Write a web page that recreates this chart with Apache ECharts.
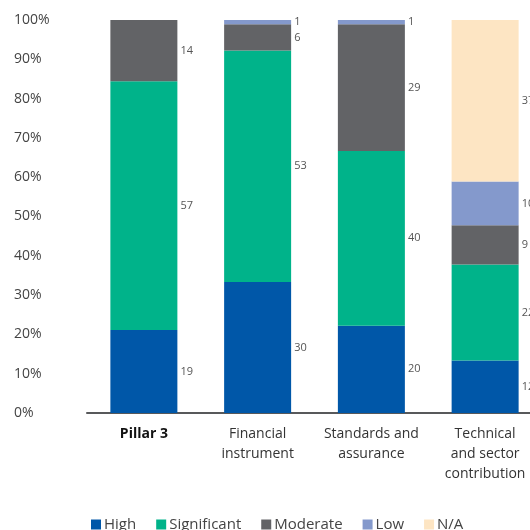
<!DOCTYPE html>
<html>
<head>
<meta charset="utf-8">
<script src="https://cdn.jsdelivr.net/npm/echarts@6/dist/echarts.min.js"></script>
<style>html,body{margin:0;padding:0;background:#fff}#c{width:530px;height:530px}</style>
</head>
<body>
<div id="c"></div>
<script>
var categories = ['Pillar 3', 'Financial\ninstrument', 'Standards and\nassurance', 'Technical\nand sector\ncontribution'];
var seriesNames = ['High', 'Significant', 'Moderate', 'Low', 'N/A'];
var high = [19, 30, 20, 12];
var significant = [57, 53, 40, 22];
var moderate = [14, 6, 29, 9];
var low = [0, 1, 1, 10];
var na = [0, 0, 0, 37];
var colors = ['#0057a8', '#00b38a', '#626366', '#8499cc', '#fde5c3'];
var yTicks = [0, 10, 20, 30, 40, 50, 60, 70, 80, 90, 100];

var counts = [high, significant, moderate, low, na];
var totals = categories.map(function (c, i) {
  return counts.reduce(function (s, arr) { return s + arr[i]; }, 0);
});

var chart = echarts.init(document.getElementById('c'), null, {renderer: 'canvas'});
var series = counts.map(function (arr, k) {
  return {
    name: seriesNames[k],
    type: 'bar',
    stack: 'all',
    barWidth: 67,
    itemStyle: {color: colors[k]},
    data: arr.map(function (v, i) {
      return {value: v === 0 ? null : v / totals[i] * 100, count: v};
    }),
    label: {
      show: true,
      position: 'right',
      distance: 3,
      color: '#555',
      fontFamily: 'Open Sans',
      fontSize: 11,
      formatter: function (p) { return p.data.count; }
    }
  };
});

chart.setOption({
  animation: false,
  color: colors,
  grid: {left: 87, top: 20, bottom: 117, right: -12, containLabel: false, outerBoundsMode: 'none'},
  xAxis: {
    type: 'category',
    data: categories,
    axisLine: {lineStyle: {color: '#58595b', width: 2}},
    axisTick: {show: false},
    axisLabel: {
      margin: 11,
      fontFamily: 'Open Sans',
      fontSize: 14,
      color: '#333',
      lineHeight: 20,
      interval: 0,
      formatter: function (v) { return v === 'Pillar 3' ? '{b|' + v + '}' : v; },
      rich: {b: {fontWeight: 'bold', color: '#111', fontSize: 14, fontFamily: 'Open Sans'}}
    }
  },
  yAxis: {
    type: 'value',
    min: yTicks[0],
    max: yTicks[yTicks.length - 1],
    interval: 10,
    splitLine: {show: false},
    axisLine: {show: false},
    axisTick: {show: false},
    axisLabel: {
      align: 'left',
      margin: 73,
      fontFamily: 'Open Sans',
      fontSize: 14,
      color: '#444',
      formatter: '{value}%'
    }
  },
  legend: {
    top: 512,
    left: 86,
    icon: 'rect',
    itemWidth: 10,
    itemHeight: 10,
    itemGap: 20,
    textStyle: {fontFamily: 'Open Sans', fontSize: 15, color: '#444', padding: [0, 0, 0, -2]},
    data: seriesNames
  },
  series: series
});
</script>
</body>
</html>
